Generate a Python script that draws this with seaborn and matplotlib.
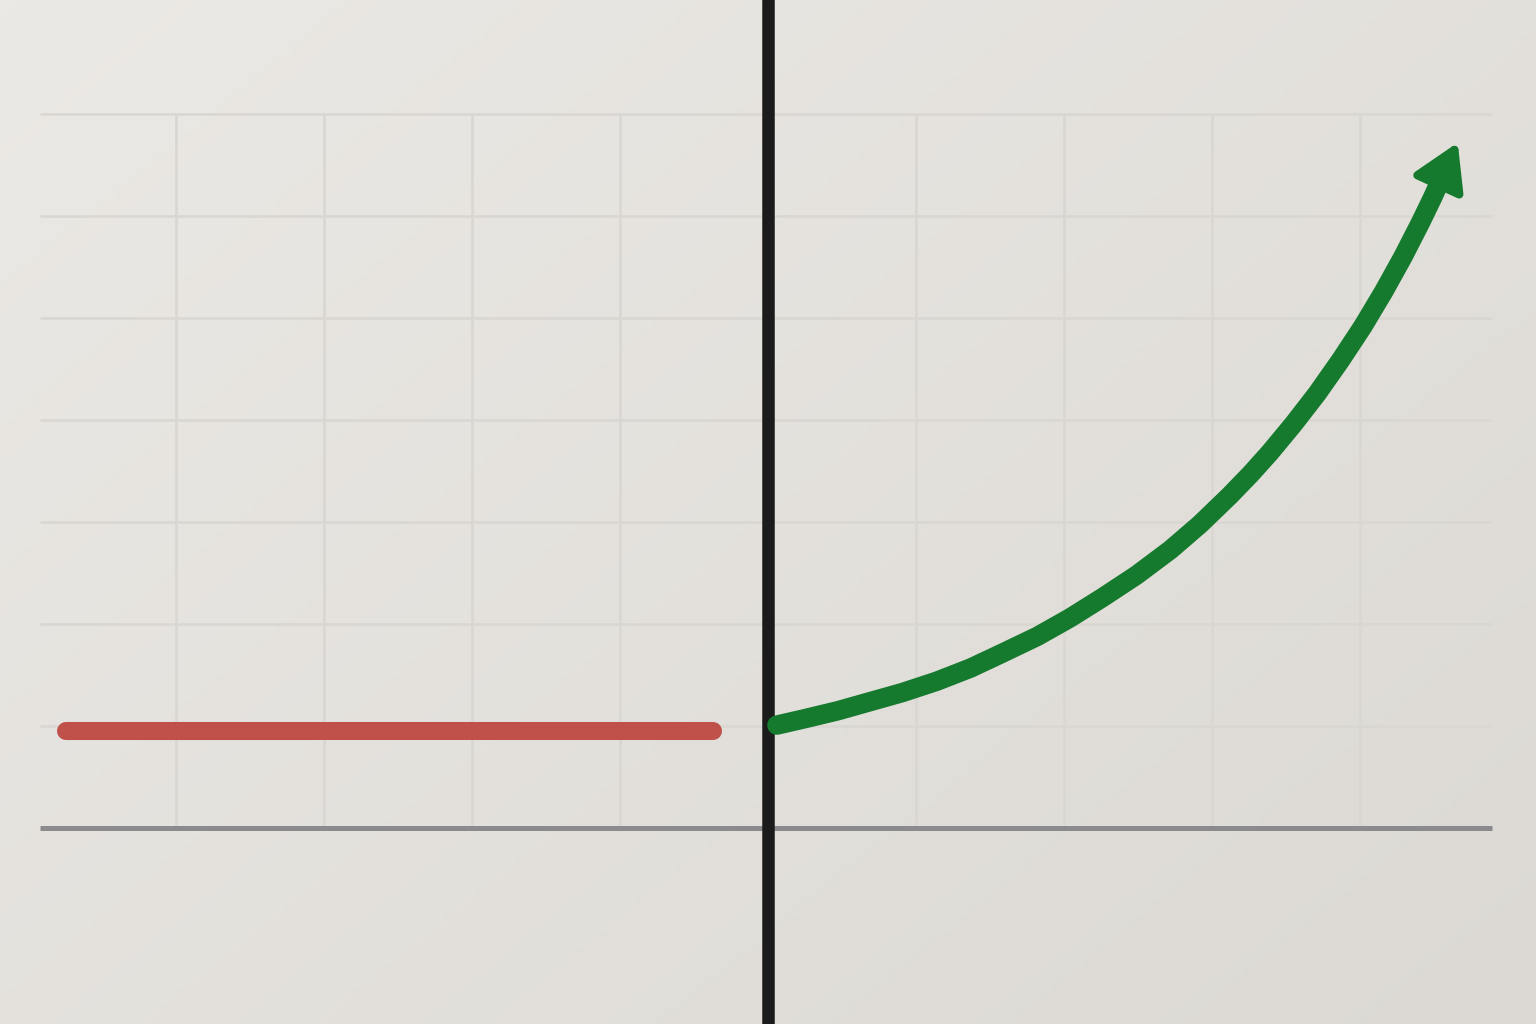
import numpy as np
import pandas as pd
import matplotlib
matplotlib.use('Agg')
import matplotlib.pyplot as plt
import seaborn as sns

sns.set_theme(style='white')

# grid positions (one unit = one grid cell)
grid_x = [-4, -3, -2, -1, 1, 2, 3, 4]
grid_y = [1, 2, 3, 4, 5, 6, 7]
grid_left, grid_right = -4.92, 4.89

# flat red segment before the break
red_x = [-4.74, -0.37]
red_y = [0.95, 0.95]

# green growth curve after the break
green_x = [0.06, 0.24, 0.47, 0.69, 0.91, 1.14, 1.37, 1.59, 1.82, 2.04, 2.26, 2.49, 2.72,
           2.92, 3.12, 3.26, 3.39, 3.55, 3.71, 3.87, 4.02, 4.16, 4.29, 4.41, 4.49, 4.54]
green_y = [1.01, 1.07, 1.15, 1.24, 1.33, 1.44, 1.57, 1.72, 1.88, 2.06, 2.26, 2.48, 2.73,
           2.98, 3.26, 3.47, 3.68, 3.96, 4.26, 4.59, 4.92, 5.26, 5.60, 5.94, 6.18, 6.34]
arrow_tip = (4.66, 6.72)

red_df = pd.DataFrame({'x': red_x, 'y': red_y})
green_df = pd.DataFrame({'x': green_x, 'y': green_y})

fig = plt.figure(figsize=(15.36, 10.24), dpi=100)
ax = fig.add_axes([0, 0, 1, 1])
xlim = (-5.189, 5.189)
ylim = (-1.92, 8.118)

# paper-like background gradient, lighter towards the top left
gx, gy = np.meshgrid(np.linspace(0, 1, 200), np.linspace(0, 1, 200))
grad = 0.55 * gx + 0.45 * gy
cmap = matplotlib.colors.LinearSegmentedColormap.from_list('bg', ['#ebe9e5', '#dcd9d4'])
ax.imshow(grad, extent=[xlim[0], xlim[1], ylim[0], ylim[1]], origin='upper',
          cmap=cmap, aspect='auto', zorder=0)
ax.set_xlim(xlim)
ax.set_ylim(ylim)
ax.axis('off')

# grid
ax.hlines(grid_y, grid_left, grid_right, color='#dad7d3', lw=1.9, zorder=1)
ax.vlines(grid_x, 0, grid_y[-1], color='#dad7d3', lw=1.9, zorder=1)

# baseline and break line
ax.hlines(0, grid_left, grid_right, color='#8b8b8d', lw=3.6, zorder=2)
ax.axvline(0, color='#1b1b1b', lw=9, zorder=5)

sns.lineplot(data=red_df, x='x', y='y', ax=ax, color='#c0504a', lw=13,
             solid_capstyle='round', zorder=4)
sns.lineplot(data=green_df, x='x', y='y', ax=ax, color='#157a2e', lw=14,
             solid_capstyle='round', solid_joinstyle='round', zorder=6, sort=False)

ax.annotate('', xy=arrow_tip, xytext=(green_x[-1], green_y[-1]),
            arrowprops=dict(arrowstyle='-|>,head_length=0.6,head_width=0.36',
                            mutation_scale=46, color='#157a2e', lw=6,
                            joinstyle='round', capstyle='round',
                            shrinkA=0, shrinkB=0),
            zorder=7)

ax.set_xlabel('')
ax.set_ylabel('')
plt.savefig('out.png', dpi=100)
plt.close()
